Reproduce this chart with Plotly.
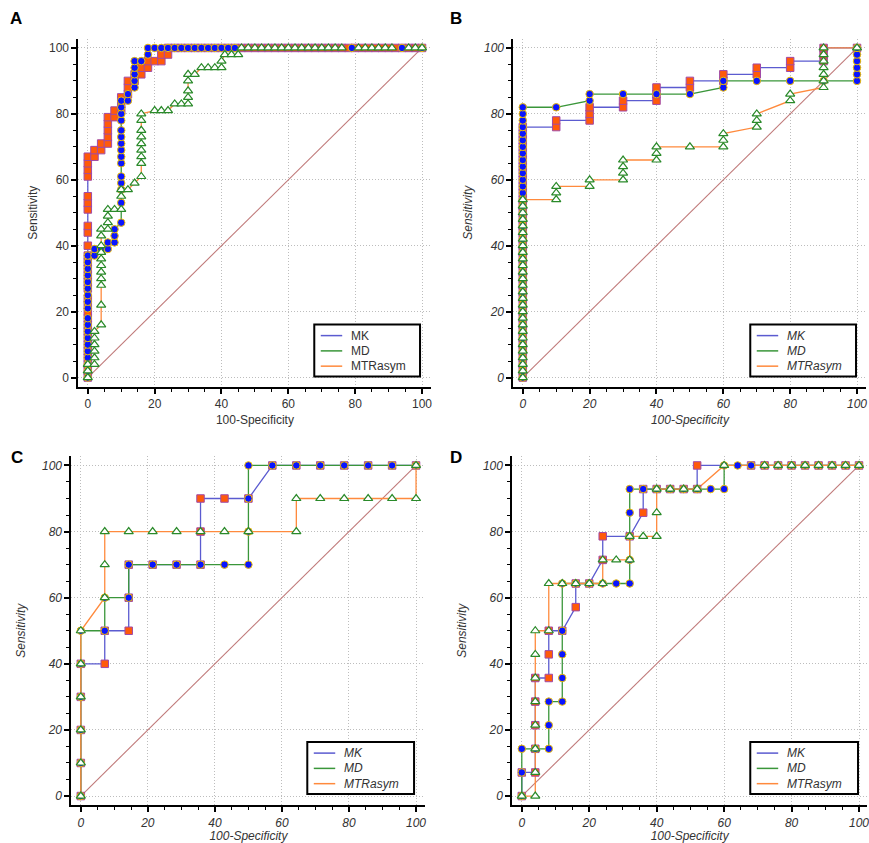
import plotly.graph_objects as go

# ---------------- DATA (100-Specificity, Sensitivity) ----------------
DIAG = [0, 100]

# Panel A
A_MK_X = [0, 0, 0, 0, 0, 0, 0, 0, 0, 0, 0, 0, 0, 0, 0, 0, 0, 0, 0, 0, 0, 0, 0, 0, 0, 0, 0, 0, 0,
          2, 2, 4, 4, 6, 6, 6, 6, 6, 8, 8, 10, 10, 10, 12, 12, 12, 14, 14, 16, 16, 18, 18, 20, 22, 22, 24, 24,
          26, 28, 30, 32, 34, 36, 38, 40, 42, 44, 46, 48, 50, 52, 54, 56, 58, 60, 62, 64, 66, 68, 70, 72,
          74, 76, 78, 80, 82, 84, 86, 88, 90, 92, 94, 96, 98, 100]
A_MK_Y = [0, 2, 4, 6, 8, 10, 12, 14, 16, 18, 20, 22, 24, 27, 29, 31, 33, 35, 37, 40, 44, 46, 51, 53, 55, 61, 63, 65, 67,
          67, 69, 69, 71, 71, 73, 75, 77, 79, 79, 81, 81, 83, 85, 86, 88, 90, 90, 92, 92, 94, 94, 96, 96, 96, 98, 98, 100,
          100, 100, 100, 100, 100, 100, 100, 100, 100, 100, 100, 100, 100, 100, 100, 100, 100, 100, 100, 100, 100, 100, 100, 100,
          100, 100, 100, 100, 100, 100, 100, 100, 100, 100, 100, 100, 100, 100]
A_MD_X = [0, 0, 0, 0, 0, 0, 0, 0, 0, 0, 0, 0, 0, 0, 0, 0, 0, 0, 0,
          2, 2, 4, 6, 6, 8, 8, 8, 10, 10, 10, 10, 10, 10, 10, 10, 10, 10, 10, 10, 10, 10, 10,
          12, 12, 14, 14, 14, 14, 14, 16, 18, 18,
          20, 22, 24, 26, 28, 30, 32, 34, 36, 38, 40, 42, 44, 79, 94, 100]
A_MD_Y = [0, 2, 4, 6, 8, 10, 12, 14, 16, 18, 21, 23, 25, 27, 29, 31, 33, 35, 37,
          37, 39, 39, 39, 41, 41, 43, 45, 47, 53, 57, 59, 61, 65, 67, 69, 71, 73, 75, 78, 80, 82, 84,
          84, 86, 88, 90, 92, 94, 96, 96, 98, 100,
          100, 100, 100, 100, 100, 100, 100, 100, 100, 100, 100, 100, 100, 100, 100, 100]
A_MTR_X = [0, 0, 0, 2, 2, 2, 2, 2, 2, 4, 4, 4, 4, 4, 4, 4, 4, 4, 4, 4, 6, 6, 6, 6, 8, 10, 10, 10, 12, 14,
           16, 16, 16, 16, 16, 16, 16, 16, 16, 20, 22, 24, 26, 28, 30, 30, 30, 30, 30, 32, 34, 36, 38, 40, 40,
           41, 43, 45, 46, 48, 50, 52, 54, 56, 58, 60, 62, 64, 66, 68, 70, 72, 74, 76, 81, 83, 85, 87, 89, 91,
           96, 98, 100]
A_MTR_Y = [0, 2, 4, 4, 6, 8, 10, 12, 14, 16, 22, 28, 30, 32, 34, 36, 38, 40, 43, 45, 45, 47, 49, 51, 51, 51, 55, 57, 57, 59,
           61, 65, 67, 69, 71, 73, 75, 78, 80, 81, 81, 81, 83, 83, 83, 85, 87, 90, 92, 92, 94, 94, 94, 94, 96,
           98, 98, 98, 100, 100, 100, 100, 100, 100, 100, 100, 100, 100, 100, 100, 100, 100, 100, 100, 100, 100, 100, 100, 100, 100,
           100, 100, 100]

# Panel B
B_MK_X = [0, 0, 0, 0, 0, 0, 0, 0, 0, 0, 0, 0, 0, 0, 0, 0, 0, 0, 0, 0, 0, 0, 0, 0, 0, 0, 0, 0, 0, 0, 0, 0, 0, 0, 0, 0, 0, 0, 0,
          10, 10, 20, 20, 20, 30, 30, 40, 40, 40, 50, 50, 60, 60, 70, 70, 80, 80, 90, 90, 90, 100]
B_MK_Y = [0, 2, 4, 6, 8, 10, 12, 14, 16, 18, 20, 22, 24, 26, 28, 30, 32, 34, 36, 38, 40, 42, 44, 46, 48, 50, 52, 54, 56, 58,
          60, 62, 64, 66, 68, 70, 72, 74, 76,
          76, 78, 78, 80, 82, 82, 84, 84, 86, 88, 88, 90, 90, 92, 92, 94, 94, 96, 96, 98, 100, 100]
B_MD_X = [0, 0, 0, 0, 0, 0, 0, 0, 0, 0, 0, 0, 0, 0, 0, 0, 0, 0, 0, 0, 0, 0, 0, 0, 0, 0, 0, 0, 0, 0, 0, 0, 0, 0, 0, 0, 0, 0, 0, 0, 0, 0,
          10, 20, 20, 30, 40, 50, 60, 60, 70, 80, 90, 100, 100, 100, 100, 100, 100]
B_MD_Y = [0, 2, 4, 6, 8, 10, 12, 14, 16, 18, 20, 22, 24, 26, 28, 30, 32, 34, 36, 38, 40, 42, 44, 46, 48, 50, 52, 54, 56, 58,
          60, 62, 64, 66, 68, 70, 72, 74, 76, 78, 80, 82,
          82, 84, 86, 86, 86, 86, 88, 90, 90, 90, 90, 90, 92, 94, 96, 98, 100]
B_MTR_X = [0, 0, 0, 0, 0, 0, 0, 0, 0, 0, 0, 0, 0, 0, 0, 0, 0, 0, 0, 0, 0, 0, 0, 0, 0, 0, 0, 0,
           10, 10, 10, 20, 20, 30, 30, 30, 30, 40, 40, 40, 50, 60, 60, 60, 70, 70, 70, 80, 80,
           90, 90, 90, 90, 90, 90, 90, 100]
B_MTR_Y = [0, 2, 4, 6, 8, 10, 12, 14, 16, 18, 20, 22, 24, 26, 28, 30, 32, 34, 36, 38, 40, 42, 44, 46, 48, 50, 52, 54,
           54, 56, 58, 58, 60, 60, 62, 64, 66, 66, 68, 70, 70, 70, 72, 74, 76, 78, 80, 84, 86,
           88, 90, 92, 94, 96, 98, 100, 100]

# Panel C
C_MK_X = [0, 0, 0, 0, 0, 7.14, 7.14, 14.29, 14.29, 14.29, 21.43, 28.57, 35.71, 35.71, 35.71, 42.86, 50,
          57.14, 64.29, 71.43, 78.57, 85.71, 92.86, 100]
C_MK_Y = [0, 10, 20, 30, 40, 40, 50, 50, 60, 70, 70, 70, 70, 80, 90, 90, 90,
          100, 100, 100, 100, 100, 100, 100]
C_MD_X = [0, 0, 0, 0, 0, 0, 7.14, 7.14, 14.29, 14.29, 21.43, 28.57, 35.71, 42.86, 50, 50, 50, 50,
          57.14, 64.29, 71.43, 78.57, 85.71, 92.86, 100]
C_MD_Y = [0, 10, 20, 30, 40, 50, 50, 60, 60, 70, 70, 70, 70, 70, 70, 80, 90, 100,
          100, 100, 100, 100, 100, 100, 100]
C_MTR_X = [0, 0, 0, 0, 0, 0, 7.14, 7.14, 7.14, 14.29, 21.43, 28.57, 35.71, 42.86, 50, 64.29, 64.29,
           71.43, 78.57, 85.71, 92.86, 100, 100]
C_MTR_Y = [0, 10, 20, 30, 40, 50, 60, 70, 80, 80, 80, 80, 80, 80, 80, 80, 90,
           90, 90, 90, 90, 90, 100]

# Panel D
D_MK_X = [0, 0, 4, 4, 4, 4, 4, 8, 8, 8, 12, 16, 16, 20, 24, 24, 32, 36, 36, 40, 44, 48, 52, 52,
          68, 72, 76, 80, 84, 88, 92, 96, 100]
D_MK_Y = [0, 7.14, 7.14, 14.29, 21.43, 28.57, 35.71, 35.71, 42.86, 50, 50, 57.14, 64.29, 64.29, 71.43, 78.57,
          78.57, 85.71, 92.86, 92.86, 92.86, 92.86, 92.86, 100,
          100, 100, 100, 100, 100, 100, 100, 100, 100]
D_MD_X = [0, 0, 0, 4, 8, 8, 8, 12, 12, 12, 12, 12, 16, 20, 24, 28, 32, 32, 32, 32, 32,
          36, 40, 44, 48, 52, 56, 60, 60, 64, 68, 72, 76, 80, 84, 88, 92, 96, 100]
D_MD_Y = [0, 7.14, 14.29, 14.29, 14.29, 21.43, 28.57, 28.57, 35.71, 42.86, 50, 64.29, 64.29, 64.29, 64.29, 64.29,
          64.29, 71.43, 78.57, 85.71, 92.86,
          92.86, 92.86, 92.86, 92.86, 92.86, 92.86, 92.86, 100, 100, 100, 100, 100, 100, 100, 100, 100, 100, 100]
D_MTR_X = [0, 4, 4, 4, 4, 4, 4, 4, 4, 8, 8, 12, 16, 20, 24, 24, 28, 32, 32, 36, 40, 40, 40, 44, 48, 52,
           60, 72, 76, 80, 84, 88, 92, 96, 100]
D_MTR_Y = [0, 0, 7.14, 14.29, 21.43, 28.57, 35.71, 42.86, 50, 50, 64.29, 64.29, 64.29, 64.29, 64.29, 71.43,
           71.43, 71.43, 78.57, 78.57, 78.57, 85.71, 92.86, 92.86, 92.86, 92.86,
           100, 100, 100, 100, 100, 100, 100, 100, 100]

SERIES_NAMES = ["MK", "MD", "MTRasym"]
PANEL_LABELS = ["A", "B", "C", "D"]
TICK_VALUES = [0, 20, 40, 60, 80, 100]
X_TITLE = "100-Specificity"
Y_TITLE = "Sensitivity"

PANEL_DATA = [
    [(A_MK_X, A_MK_Y), (A_MD_X, A_MD_Y), (A_MTR_X, A_MTR_Y)],
    [(B_MK_X, B_MK_Y), (B_MD_X, B_MD_Y), (B_MTR_X, B_MTR_Y)],
    [(C_MK_X, C_MK_Y), (C_MD_X, C_MD_Y), (C_MTR_X, C_MTR_Y)],
    [(D_MK_X, D_MK_Y), (D_MD_X, D_MD_Y), (D_MTR_X, D_MTR_Y)],
]

# ---------------- STYLE ----------------
W, H = 869, 843
LINE_COLORS = ["#5b5bd0", "#3a963a", "#ff8a3d"]
MARKERS = [
    dict(symbol="square", size=7.5, color="#ff5a0a", line=dict(color="#a04aa8", width=1)),
    dict(symbol="circle", size=7.5, color="#0a14ff", line=dict(color="#f0c000", width=1)),
    dict(symbol="triangle-up", size=8, color="white", line=dict(color="#2a8a2a", width=1.2)),
]
FONT = "Liberation Sans, Arial, sans-serif"

# pixel geometry for each panel: (x at 0, x at 100, y at 100, y at 0)
GEOM = [
    (88, 423, 48, 378),
    (524, 859, 48, 378),
    (81, 417, 466, 797),
    (523, 861, 466, 797),
]
PAD = 2.8
# legend boxes: (left, top, right, bottom) in px
LEGEND_BOX = [(314, 324, 422, 378), (751, 324, 859, 378), (307, 742, 416, 796), (751, 742, 861, 796)]
LETTER_POS = [(16.5, 19), (457.5, 19), (17.5, 458), (457.5, 458)]
ITALIC = [False, True, True, True]
Y_STANDOFF = [9, 9, 14, 14]

fig = go.Figure()
annotations = []
shapes = []
layout = dict(width=W, height=H, margin=dict(l=0, r=0, t=0, b=0),
              paper_bgcolor="white", plot_bgcolor="white", showlegend=False)


def px2x(p):
    return p / W


def px2y(p):
    return 1 - p / H


for i in range(4):
    sfx = "" if i == 0 else str(i + 1)
    xa, ya = "x" + sfx, "y" + sfx
    x0p, x100p, y100p, y0p = GEOM[i]
    sx = (x100p - x0p) / 100.0
    sy = (y0p - y100p) / 100.0
    left = x0p - PAD * sx
    right = min(x100p + PAD * sx, W)
    xmax = (right - x0p) / sx
    bottom = y0p + PAD * sy
    top = y100p - PAD * sy
    style = "italic" if ITALIC[i] else "normal"
    tfont = dict(family=FONT, size=12, color="#333333", style=style)

    # diagonal reference line
    fig.add_trace(go.Scatter(x=DIAG, y=DIAG, mode="lines", xaxis=xa, yaxis=ya,
                             line=dict(color="#c07a7a", width=1.1), hoverinfo="skip"))
    # curve lines
    for k, (xs, ys) in enumerate(PANEL_DATA[i]):
        fig.add_trace(go.Scatter(x=xs, y=ys, mode="lines", xaxis=xa, yaxis=ya,
                                 line=dict(color=LINE_COLORS[k], width=1.3),
                                 name=SERIES_NAMES[k]))
    # markers
    for k, (xs, ys) in enumerate(PANEL_DATA[i]):
        fig.add_trace(go.Scatter(x=xs, y=ys, mode="markers", xaxis=xa, yaxis=ya,
                                 marker=MARKERS[k], name=SERIES_NAMES[k]))

    common = dict(showline=True, linecolor="black", linewidth=2, ticks="outside",
                  ticklen=5, tickwidth=2, tickcolor="black", tickmode="array",
                  tickvals=TICK_VALUES, showgrid=True, gridcolor="#bdbdbd",
                  griddash="1px,2px", gridwidth=1, zeroline=False, tickfont=tfont,
                  ticklabeloverflow="allow",
                  minor=dict(dtick=5, tick0=0, ticks="outside", ticklen=3, tickwidth=1,
                             tickcolor="black", showgrid=False))
    layout["xaxis" + sfx] = dict(common, domain=[left / W, right / W], anchor=ya,
                                 range=[-PAD, xmax],
                                 title=dict(text=X_TITLE, font=tfont, standoff=5))
    layout["yaxis" + sfx] = dict(common, domain=[1 - bottom / H, 1 - top / H], anchor=xa,
                                 range=[-PAD, 100 + PAD],
                                 title=dict(text=Y_TITLE, font=tfont, standoff=Y_STANDOFF[i]))

    # legend box (lines only, as in the original)
    L, T, R, B = LEGEND_BOX[i]
    shapes.append(dict(type="rect", xref="paper", yref="paper", layer="above",
                       x0=px2x(L + 1), x1=px2x(R - 1), y0=px2y(B - 1), y1=px2y(T + 1),
                       line=dict(color="black", width=2), fillcolor="white"))
    for k in range(3):
        yy = T + 12 + k * 15.3
        shapes.append(dict(type="line", xref="paper", yref="paper", layer="above",
                           x0=px2x(L + 7.5), x1=px2x(L + 29), y0=px2y(yy), y1=px2y(yy),
                           line=dict(color=LINE_COLORS[k], width=1.5)))
        annotations.append(dict(text=SERIES_NAMES[k], x=px2x(L + 36), y=px2y(yy),
                                xref="paper", yref="paper", showarrow=False,
                                xanchor="left", yanchor="middle",
                                font=dict(family=FONT, size=12, color="#333333", style=style)))

    px_, py_ = LETTER_POS[i]
    annotations.append(dict(text="<b>%s</b>" % PANEL_LABELS[i], x=px2x(px_), y=px2y(py_),
                            xref="paper", yref="paper", showarrow=False,
                            xanchor="center", yanchor="middle",
                            font=dict(family=FONT, size=17, color="black")))

layout["annotations"] = annotations
layout["shapes"] = shapes
fig.update_layout(**layout)
fig.write_html("out.html", config={"displayModeBar": False},
               post_script="document.body.style.margin='0px';document.body.style.padding='0px';")
